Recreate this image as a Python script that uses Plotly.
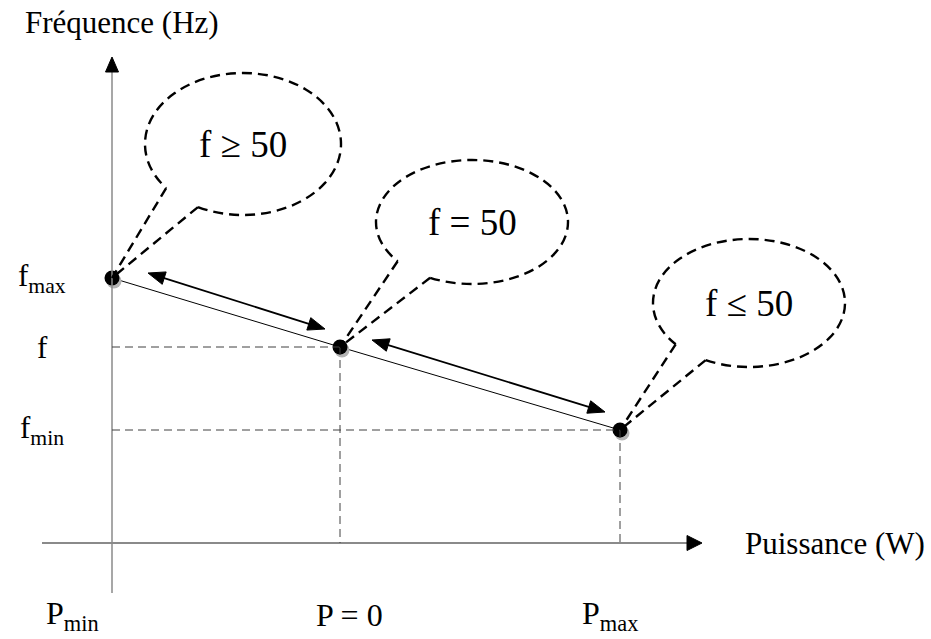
import math
import plotly.graph_objects as go

# diagram units: origin where the two axes cross, y upwards, 1 unit ~ 1 px
p_vals = [0, 228, 508]        # Pmin, P = 0, Pmax
f_vals = [265, 196, 113]      # fmax, f, fmin
p_labels = ["P<sub>min</sub>", "P = 0", "P<sub>max</sub>"]
f_labels = ["f<sub>max</sub>", "f", "f<sub>min</sub>"]

# bulles : texte, centre, rayons, points de départ de la queue
bubble_text = ["f ≥ 50", "f = 50", "f ≤ 50"]
bubble_cx = [131, 360, 637]
bubble_cy = [399, 321, 240]
bubble_rx = [98, 96, 96]
bubble_ry = [71, 62, 64]
tail_a = [(56, 356), (288, 283), (566, 200)]
tail_b = [(86, 336), (318, 265), (590, 178)]

# doubles flèches le long de la droite
arrow_from = [(36, 270), (260, 203)]
arrow_to = [(213, 214), (493, 131)]

x_axis = [-70, 590]     # début, pointe
y_axis = [-50, 486]
x_range = [-112, 819]
y_range = [-96, 543]

FONT = "Liberation Serif"
AXIS_GREY = "#8a8a8a"
BUBBLE_LINE = dict(color="black", width=2.4, dash="10px,6px")


def ellipse_arc(cx, cy, rx, ry, t0, t1):
    # arc d'ellipse en courbes de Bézier cubiques
    n = max(1, math.ceil((t1 - t0) / (math.pi / 2)))
    dt = (t1 - t0) / n
    k = 4 / 3 * math.tan(dt / 4)

    def pt(t):
        return cx + rx * math.cos(t), cy + ry * math.sin(t)

    def dv(t):
        return -rx * math.sin(t), ry * math.cos(t)

    x, y = pt(t0)
    path = f"M{x:.2f},{y:.2f}"
    for i in range(n):
        a = t0 + i * dt
        b = a + dt
        xa, ya = pt(a)
        da = dv(a)
        xb, yb = pt(b)
        db = dv(b)
        path += (f" C{xa + k * da[0]:.2f},{ya + k * da[1]:.2f}"
                 f" {xb - k * db[0]:.2f},{yb - k * db[1]:.2f} {xb:.2f},{yb:.2f}")
    return path, pt(t0), pt(t1)


def angle(cx, cy, rx, ry, p):
    return math.atan2((p[1] - cy) / ry, (p[0] - cx) / rx)


def head(tip, ux, uy, length, half):
    # triangle plein dont la pointe est en tip, orienté selon (ux, uy)
    bx, by = tip[0] - ux * length, tip[1] - uy * length
    return dict(type="path", xref="x", yref="y",
                path=(f"M{tip[0]:.2f},{tip[1]:.2f} L{bx - uy * half:.2f},{by + ux * half:.2f}"
                      f" L{bx + uy * half:.2f},{by - ux * half:.2f} Z"),
                fillcolor="black", line=dict(color="black", width=1))


fig = go.Figure()
shapes = []
annotations = []

# axes
shapes.append(dict(type="line", xref="x", yref="y", x0=x_axis[0], y0=0, x1=x_axis[1] - 14, y1=0,
                   line=dict(color=AXIS_GREY, width=2)))
shapes.append(dict(type="line", xref="x", yref="y", x0=0, y0=y_axis[0], x1=0, y1=y_axis[1] - 14,
                   line=dict(color=AXIS_GREY, width=1.5)))
shapes.append(head((x_axis[1], 0), 1, 0, 15, 7.5))
shapes.append(head((0, y_axis[1]), 0, 1, 15, 6.5))

# pointillés de repère
for i in (1, 2):
    shapes.append(dict(type="line", xref="x", yref="y", x0=0, y0=f_vals[i], x1=p_vals[i], y1=f_vals[i],
                       line=dict(color="#404040", width=1, dash="8px,5px")))
    shapes.append(dict(type="line", xref="x", yref="y", x0=p_vals[i], y0=f_vals[i], x1=p_vals[i], y1=0,
                       line=dict(color="#404040", width=1, dash="8px,5px")))

# bulles
for i in range(3):
    cx, cy, rx, ry = bubble_cx[i], bubble_cy[i], bubble_rx[i], bubble_ry[i]
    ta = angle(cx, cy, rx, ry, tail_a[i])
    tb = angle(cx, cy, rx, ry, tail_b[i])
    d = (ta - tb) % (2 * math.pi)
    if d > math.pi:
        path, s, e = ellipse_arc(cx, cy, rx, ry, tb, tb + d)
    else:
        path, s, e = ellipse_arc(cx, cy, rx, ry, ta, ta + 2 * math.pi - d)
    shapes.append(dict(type="path", xref="x", yref="y", path=path, line=BUBBLE_LINE))
    for q in (s, e):
        shapes.append(dict(type="line", xref="x", yref="y", x0=q[0], y0=q[1], x1=p_vals[i], y1=f_vals[i],
                           line=BUBBLE_LINE))
    annotations.append(dict(x=cx, y=cy, xref="x", yref="y", text=bubble_text[i], showarrow=False,
                            font=dict(family=FONT, size=37, color="black")))

# doubles flèches
for a, b in zip(arrow_from, arrow_to):
    dx, dy = b[0] - a[0], b[1] - a[1]
    n = math.hypot(dx, dy)
    ux, uy = dx / n, dy / n
    shapes.append(dict(type="line", xref="x", yref="y",
                       x0=a[0] + ux * 12, y0=a[1] + uy * 12, x1=b[0] - ux * 12, y1=b[1] - uy * 12,
                       line=dict(color="black", width=1.8)))
    shapes.append(head(b, ux, uy, 17, 6.5))
    shapes.append(head(a, -ux, -uy, 17, 6.5))

# droite de statisme
fig.add_trace(go.Scatter(x=p_vals, y=f_vals, mode="lines", line=dict(color="black", width=1),
                         hoverinfo="skip", showlegend=False))
# ombre des points puis points
fig.add_trace(go.Scatter(x=[p + 2 for p in p_vals], y=[f - 3 for f in f_vals], mode="markers",
                         marker=dict(size=15, color="#b4b4b4"), hoverinfo="skip", showlegend=False))
fig.add_trace(go.Scatter(x=p_vals, y=f_vals, mode="markers",
                         marker=dict(size=15, color="black"), hoverinfo="skip", showlegend=False))

# étiquettes des axes
for lab, f in zip(f_labels, f_vals):
    annotations.append(dict(x=-70, y=f, xref="x", yref="y", text=lab, showarrow=False,
                            xanchor="center", yanchor="middle",
                            font=dict(family=FONT, size=31, color="black")))
p_shift = [-40, 9, -10]
for lab, p, sh in zip(p_labels, p_vals, p_shift):
    annotations.append(dict(x=p, y=-72, xref="x", yref="y", text=lab, showarrow=False,
                            xanchor="center", yanchor="middle", xshift=sh,
                            font=dict(family=FONT, size=32, color="black")))

annotations.append(dict(x=-89, y=521, xref="x", yref="y", text="Fréquence (Hz)", showarrow=False,
                        xanchor="left", yanchor="middle", font=dict(family=FONT, size=31, color="black")))
annotations.append(dict(x=631, y=0, xref="x", yref="y", text="Puissance (W)", showarrow=False,
                        xanchor="left", yanchor="middle", font=dict(family=FONT, size=31, color="black")))

fig.update_layout(
    width=931, height=639,
    margin=dict(l=0, r=0, t=0, b=0),
    paper_bgcolor="white", plot_bgcolor="white",
    xaxis=dict(range=x_range, visible=False, fixedrange=True),
    yaxis=dict(range=y_range, visible=False, fixedrange=True),
    shapes=shapes, annotations=annotations,
    showlegend=False,
)

fig.write_html("out.html", config=dict(displayModeBar=False),
               post_script="document.body.style.margin='0';")
